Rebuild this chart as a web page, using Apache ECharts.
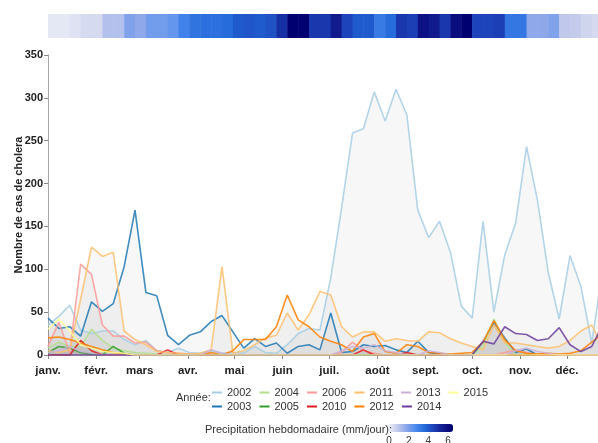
<!DOCTYPE html>
<html><head><meta charset="utf-8">
<script src="https://cdn.jsdelivr.net/npm/echarts@6/dist/echarts.min.js"></script>
<style>html,body{margin:0;padding:0;background:#fff}#c{width:598px;height:443px}</style>
</head><body><div id="c"></div>
<script>
// ---- data ----
const monthNames = ['janv.','févr.','mars','avr.','mai','juin','juil.','août','sept.','oct.','nov.','déc.'];
const monthStarts = [0,31,59,90,120,151,181,212,243,273,304,334];
const years = ['2002','2003','2004','2005','2006','2010','2011','2012','2013','2014','2015'];
const legendRow1 = ['2002','2004','2006','2011','2013','2015'];
const legendRow2 = ['2003','2005','2010','2012','2014'];
const colors = ['#a6cee3','#1f78b4','#b2df8a','#33a02c','#fb9a99','#e31a1c','#fdbf6f','#ff7f00','#cab2d6','#6a3d9a','#ffff99'];
const rainTicks = [0,2,4,6];

const c2002 = [35,45,58,29,25,28,28,18,12,17,5,3,8,3,2,5,2,3,2,10,3,2,12,25,31,29,90,172,259,264,307,273,310,280,169,137,156,120,57,43,156,50,117,154,243,181,96,42,116,80,14,100];
const c2003 = [43,31,33,22,62,51,60,103,169,73,69,23,12,23,27,39,46,27,8,19,10,14,2,10,12,6,49,3,4,12,10,11,6,3,16,3,1,0,0,0,15,38,20,3,7,0,0,0,0,0,0,0];
const c2004 = [8,15,10,10,30,17,8,5,3,2,1,0,0,0,0,0,0,0,0,0,0,0,0,0,0,0,0,0,0,0,0,0,0,0,0,0,0,0,0,0,10,42,15,0,0,0,0,0,0,0,0,0];
const c2005 = [3,10,8,3,1,0,10,2,0,0,0,0,0,0,0,0,0,0,0,0,0,0,0,0,0,0,0,0,0,0,0,0,0,0,0,0,0,0,0,0,0,0,0,0,0,0,0,0,0,0,0,0];
const c2006 = [10,38,3,106,94,35,22,22,14,15,5,3,2,1,0,0,0,0,0,0,0,0,0,0,0,0,0,3,15,5,2,0,0,0,0,0,0,0,0,0,0,0,3,6,3,0,0,0,0,0,0,0];
const c2010 = [0,0,0,17,5,0,0,0,0,0,0,6,0,0,0,0,0,0,0,0,0,0,0,0,0,0,0,0,0,6,0,0,0,3,0,0,0,0,0,0,0,0,0,0,0,0,0,0,0,0,0,0];
const c2011 = [5,3,6,65,126,115,120,28,18,12,4,3,2,1,2,6,103,2,5,12,20,23,49,29,47,74,70,33,21,27,27,16,19,17,16,27,26,19,14,10,6,35,14,14,12,10,8,10,17,28,35,8];
const c2012 = [20,21,18,14,10,6,3,1,0,0,0,0,0,0,0,3,0,5,18,18,18,33,70,41,33,21,16,12,4,21,25,4,2,12,10,3,2,1,2,3,15,40,18,5,2,1,2,1,2,5,15,25];
const c2013 = [3,5,10,4,2,0,0,0,0,0,0,0,0,0,0,6,2,0,0,0,0,0,0,0,0,0,0,5,10,8,12,5,3,0,0,5,3,0,0,0,0,0,0,5,8,4,2,0,0,0,0,0];
const c2014 = [0,0,0,0,0,0,0,0,0,0,0,0,0,0,0,0,0,0,0,0,0,0,0,0,0,0,0,0,0,0,0,0,0,0,0,0,0,0,0,0,16,13,33,25,24,17,19,32,12,4,10,35];
const c2015 = [30,42,28,12,8,4,3,2,0,0,0,0,0,0,0,0,0,0,0,0,0,0,0,0,0,0,0,0,0,0,0,0,0,0,0,0,0,0,0,0,0,0,0,0,0,0,0,0,0,0,0,0];
const rain = [0.3,0.3,0.4,0.6,0.6,1.2,1.2,2.0,1.8,2.2,2.2,2.4,3.0,3.4,3.5,3.5,3.6,4.0,4.1,4.0,4.2,5.0,6.5,6.5,4.8,4.8,5.5,4.5,4.0,4.0,3.2,3.6,4.8,4.6,5.8,5.5,4.8,6.0,7.0,4.5,4.5,4.6,3.3,3.3,1.8,1.8,2.0,1.0,0.9,0.7,0.6,0.4];

const cases = [c2002,c2003,c2004,c2005,c2006,c2010,c2011,c2012,c2013,c2014,c2015];

// ---- build ----
const font = 'Liberation Sans, Arial, sans-serif';
const dayMax = 354;   // visible part of the year (plot is cut at the right edge)
const series = years.map((y, i) => ({
  name: y, type: 'line', xAxisIndex: 0, yAxisIndex: 0,
  data: cases[i].map((v, k) => [k * 7, v]),
  symbol: 'none', color: colors[i], clip: true,
  lineStyle: { width: 1.6, color: colors[i], opacity: 0.85 },
  areaStyle: { color: 'rgba(0,0,0,0.045)' },
  emphasis: { disabled: true }, z: 2
}));
series.push({
  type: 'custom', xAxisIndex: 1, yAxisIndex: 1, clip: true,
  data: rain.map((v, k) => [k * 7, v]),
  encode: { x: 0 },
  renderItem: function (params, api) {
    const d0 = api.value(0);
    const p0 = api.coord([d0, 1]);
    const p1 = api.coord([d0 + 7, 0]);
    return { type: 'rect', shape: { x: p0[0], y: p0[1], width: p1[0] - p0[0] + 0.5, height: p1[1] - p0[1] },
             style: { fill: api.visual('color') } };
  }
});

const legendCommon = {
  orient: 'horizontal', itemWidth: 10, itemHeight: 2, itemGap: 8, icon: 'rect', padding: 0,
  textStyle: { fontFamily: font, fontSize: 11, color: '#333' }, selectedMode: false
};

const chart = echarts.init(document.getElementById('c'), null, { renderer: 'canvas' });
chart.setOption({
  animation: false,
  backgroundColor: '#fff',
  title: [
    { text: 'Année:', left: 176, top: 392, padding: 0, textStyle: { fontFamily: font, fontSize: 11, fontWeight: 'normal', color: '#333' } },
    { text: 'Precipitation hebdomadaire (mm/jour):', left: 205, top: 424, padding: 0, textStyle: { fontFamily: font, fontSize: 11, fontWeight: 'normal', color: '#333' } }
  ],
  legend: [
    Object.assign({ data: legendRow1, left: 212, top: 387 }, legendCommon),
    Object.assign({ data: legendRow2, left: 212, top: 401 }, legendCommon)
  ],
  grid: [
    { left: 48, top: 55, width: 550, height: 300, containLabel: false, outerBoundsMode: 'none' },
    { left: 48, top: 14, width: 550, height: 24, containLabel: false, outerBoundsMode: 'none' },
    { left: 389, top: 424, width: 64, height: 8, containLabel: false, outerBoundsMode: 'none' }
  ],
  xAxis: [
    { type: 'value', gridIndex: 0, min: 0, max: dayMax,
      axisLine: { show: true, lineStyle: { color: '#aaa', width: 1 } },
      axisTick: { show: true, customValues: monthStarts, length: 4, lineStyle: { color: '#888' } },
      axisLabel: { customValues: monthStarts, formatter: v => monthNames[monthStarts.indexOf(v)], fontFamily: font, fontSize: 11.5, fontWeight: 'bold', color: '#222', margin: 10 },
      splitLine: { show: false } },
    { type: 'value', gridIndex: 1, min: 0, max: dayMax, show: false },
    { type: 'value', gridIndex: 2, min: 0, max: 6.5, interval: 2,
      axisLine: { show: false }, axisTick: { show: false }, splitLine: { show: false },
      axisLabel: { customValues: rainTicks, fontFamily: font, fontSize: 10, color: '#333', margin: 4 } }
  ],
  yAxis: [
    { type: 'value', gridIndex: 0, min: 0, max: 350, interval: 50,
      name: 'Nombre de cas de cholera', nameLocation: 'middle', nameGap: 24, nameRotate: 90, nameMoveOverlap: false,
      nameTextStyle: { fontFamily: font, fontSize: 11, fontWeight: 'bold', color: '#222' },
      axisLine: { show: true, lineStyle: { color: '#aaa', width: 1 } },
      axisTick: { show: true, length: 4, lineStyle: { color: '#888' } },
      axisLabel: { fontFamily: font, fontSize: 11, fontWeight: 'bold', color: '#222', margin: 5 },
      splitLine: { show: false } },
    { type: 'value', gridIndex: 1, min: 0, max: 1, show: false },
    { type: 'value', gridIndex: 2, show: false, min: 0, max: 1 }
  ],
  visualMap: {
    type: 'continuous', min: 0, max: 6.5, seriesIndex: years.length, dimension: 1,
    orient: 'horizontal', left: 388, top: 424, itemWidth: 8, itemHeight: 65,
    calculable: false, text: ['', ''], padding: 0, itemGap: 0, hoverLink: false,
    inRange: { color: ['#f3f4f9','#c4cbeb','#8aa6ea','#4a8af0','#2268d8','#1c3db4','#10188a','#000070'] }
  },
  series: series
});
</script></body></html>
